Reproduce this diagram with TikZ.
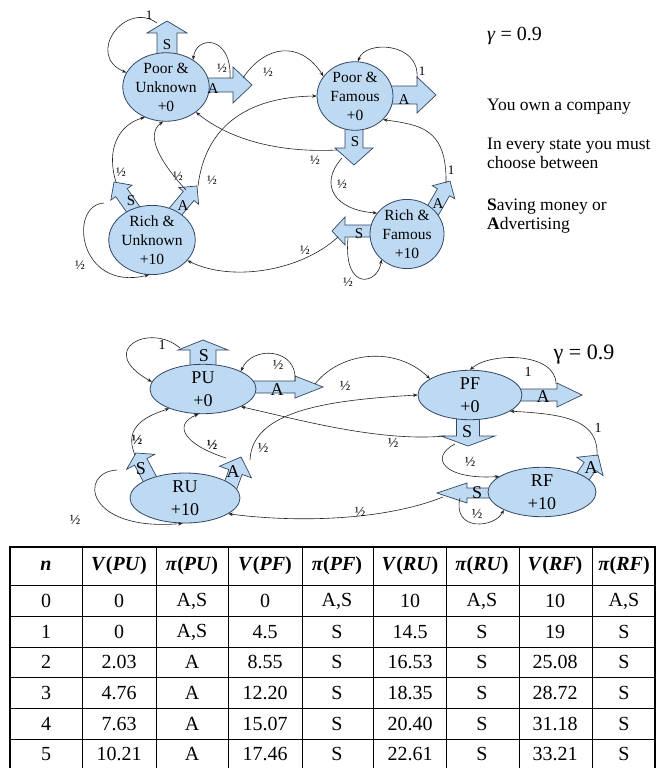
\documentclass[tikz,border=0pt]{standalone}
\usepackage{fontspec}
\setmainfont{Liberation Serif}
\usetikzlibrary{shapes.geometric,arrows.meta}
\definecolor{bfill}{RGB}{190,218,242}
\definecolor{bline}{RGB}{50,70,100}
\definecolor{eline}{RGB}{35,35,35}
\newcommand\blockarr[6]{%
 \begin{scope}[shift={#1},rotate=#2]
 \draw[barr] (0,0) -- (-#6,-#5) -- (-#6,-#4) -- (-#3,-#4) -- (-#3,#4) -- (-#6,#4) -- (-#6,#5) -- cycle;
 \end{scope}}
\newcommand\tcell[4]{\node[cellst] (#1) at (#2,#3) {#4};}
\newcommand\hcell[4]{\node[hcellst] (#1) at (#2,566) {\textit{#3}(\textit{#4})};}
\tikzset{
 stnode/.style={ellipse, draw=bline, fill=bfill, line width=0.8pt, inner sep=0pt, align=center},
 topst/.style={stnode, font=\fontsize{15.5}{19}\selectfont},
 botst/.style={stnode, font=\fontsize{18}{23}\selectfont},
 barr/.style={draw=bline, fill=bfill, line width=0.7pt, line join=miter},
 conn/.style={draw=eline, line width=0.6pt, -{Stealth[length=4.5pt,width=3.5pt]}},
 lab/.style={inner sep=0pt, font=\fontsize{13}{13}\selectfont},
 blab/.style={inner sep=0pt, font=\fontsize{14}{14}\selectfont},
 bblab/.style={inner sep=0pt, font=\fontsize{14}{14}\selectfont\bfseries},
 tal/.style={inner sep=0pt, font=\fontsize{15}{15}\selectfont},
 bal/.style={inner sep=0pt, font=\fontsize{18}{18}\selectfont},
 rtxt/.style={inner sep=0pt, anchor=base west, font=\fontsize{17.5}{17.5}\selectfont},
 cellst/.style={inner sep=0pt, font=\fontsize{20}{20}\selectfont},
 hcellst/.style={inner sep=0pt, font=\fontsize{20}{20}\selectfont\bfseries},
 thinl/.style={line width=0.8pt, draw=black},
 thickl/.style={line width=2pt, draw=black},
}
\begin{document}
\begin{tikzpicture}[x=1pt,y=-1pt]
\fill[white] (0,0) rectangle (656,768);
\useasboundingbox (0,0) rectangle (656,768);

% ===== TOP DIAGRAM =====
\blockarr{(167,21)}{90}{42}{10}{20}{12}
\blockarr{(252,85)}{0}{60}{7}{18}{19}
\blockarr{(436,95)}{0}{50}{9}{18}{19}
\blockarr{(354,165)}{-90}{47}{9}{19}{17}
\blockarr{(114,182)}{125}{42}{7}{13}{13}
\blockarr{(197,186)}{50}{42}{7}{13}{13}
\blockarr{(450,181)}{60}{42}{7}{13}{13}
\blockarr{(332,231)}{180}{50}{6}{14}{13}

\node[topst, minimum width=74, minimum height=68] (pu) at (166,87) {Poor \&\\Unknown\\+0};
\node[topst, minimum width=76, minimum height=66] (pf) at (355,96) {Poor \&\\Famous\\+0};
\node[topst, minimum width=74, minimum height=68] (ru) at (152,240) {Rich \&\\Unknown\\+10};
\node[topst, minimum width=74, minimum height=66] (rf) at (407,234) {Rich \&\\Famous\\+10};

\node[tal] (tpuS) at (167,45) {S};
\node[tal] (tpuA) at (213,89) {A};
\node[tal] (tpfA) at (404,100) {A};
\node[tal] (tpfS) at (355,142) {S};
\node[tal] (truS) at (131,201) {S};
\node[tal] (truA) at (183,206) {A};
\node[tal] (trfA) at (438,204) {A};
\node[tal] (trfS) at (359,234) {S};

\coordinate (e1) at (157,23);
\coordinate (e2) at (230,78);
\coordinate (e3) at (243,78);
\coordinate (e4) at (417,78);
\coordinate (e5) at (337,150);
\coordinate (e6) at (342,158);
\coordinate (e7) at (446,183);
\coordinate (e8) at (348,238);
\coordinate (e9) at (338,237);
\coordinate (e10) at (116,182);
\coordinate (e11) at (186,190);
\coordinate (e12) at (198,186);
\coordinate (e13) at (104,203);

\draw[conn] (e1) .. controls (125,0) and (85,55) .. (pu.160);
\draw[conn] (e2) .. controls (232,35) and (196,35) .. (pu.45);
\draw[conn] (e3) .. controls (265,45) and (300,40) .. (pf.148);
\draw[conn] (e4) .. controls (420,42) and (365,40) .. (pf.85);
\draw[conn] (e5) .. controls (280,153) and (230,140) .. (pu.-40);
\draw[conn] (e6) .. controls (318,185) and (335,210) .. (rf.145);
\draw[conn] (e7) .. controls (447,128) and (420,125) .. (pf.-40);
\draw[conn] (e8) .. controls (343,292) and (378,285) .. (rf.-135);
\draw[conn] (e9) .. controls (300,272) and (230,282) .. (ru.-30);
\draw[conn] (e10) .. controls (106,150) and (118,125) .. (pu.-125);
\draw[conn] (e11) .. controls (160,162) and (145,135) .. (pu.-95);
\draw[conn] (e12) .. controls (205,128) and (245,97) .. (pf.180);
\draw[conn] (e13) .. controls (68,205) and (78,292) .. (ru.-95);

\node[lab] (l1) at (149,15) {1};
\node[lab] (l2) at (222,68) {½};
\node[lab] (l3) at (268,72) {½};
\node[lab] (l4) at (422,71) {1};
\node[lab] (l5) at (315,160) {½};
\node[lab] (l6) at (342,184) {½};
\node[lab] (l7) at (451,170) {1};
\node[lab] (l8) at (348,282) {½};
\node[lab] (l9) at (305,250) {½};
\node[lab] (l10) at (121,172) {½};
\node[lab] (l11) at (178,176) {½};
\node[lab] (l12) at (212,180) {½};
\node[lab] (l13) at (80,265) {½};

% right-hand text
\node[inner sep=0pt, anchor=base west, font=\fontsize{20}{20}\selectfont] (gam1) at (487,41) {\textit{γ} = 0.9};
\node[rtxt] (t1) at (487,110) {You own a company};
\node[rtxt] (t2) at (487,149) {In every state you must};
\node[rtxt] (t3) at (487,168) {choose between};
\node[rtxt] (t4) at (487,210) {\textbf{S}aving money or};
\node[rtxt] (t5) at (487,229) {\textbf{A}dvertising};

% ===== BOTTOM DIAGRAM =====
\blockarr{(203,340)}{90}{45}{13}{25}{10}
\blockarr{(323,387)}{0}{83}{6}{11}{28}
\blockarr{(582,395)}{0}{77}{6}{12}{25}
\blockarr{(468,446)}{-90}{40}{11.5}{27}{10}
\blockarr{(136,453)}{118}{35}{7}{16}{10}
\blockarr{(241,457)}{70}{35}{7}{17}{16}
\blockarr{(598,455)}{55}{35}{7}{16}{14}
\blockarr{(437,493)}{180}{60}{5}{10}{30}

\node[botst, minimum width=106, minimum height=48] (PU) at (203,389) {PU\\+0};
\node[botst, minimum width=104, minimum height=46] (PF) at (470,395) {PF\\+0};
\node[botst, minimum width=110, minimum height=50] (RU) at (185,498) {RU\\+10};
\node[botst, minimum width=108, minimum height=46] (RF) at (542,492) {RF\\+10};

\node[bal] (bpuS) at (204,356) {S};
\node[bal] (bpuA) at (277,390) {A};
\node[bal] (bpfA) at (543,397) {A};
\node[bal] (bpfS) at (467,432) {S};
\node[bal] (bruS) at (141,469) {S};
\node[bal] (bruA) at (233,472) {A};
\node[bal] (brfA) at (591,468) {A};
\node[bal] (brfS) at (477,493) {S};

\node[inner sep=0pt, font=\fontsize{22}{22}\selectfont] (gam2) at (584,355) {γ = 0.9};

\coordinate (f1) at (180,348);
\coordinate (f2) at (295,381);
\coordinate (f3) at (315,384);
\coordinate (f4) at (556,384);
\coordinate (f5) at (445,436);
\coordinate (f6) at (455,444);
\coordinate (f7) at (597,456);
\coordinate (f8) at (460,498);
\coordinate (f9) at (443,497);
\coordinate (f10) at (135,455);
\coordinate (f11) at (226,458);
\coordinate (f12) at (250,460);
\coordinate (f13) at (117,470);

\draw[conn] (f1) .. controls (150,322) and (95,350) .. (PU.172);
\draw[conn] (f2) .. controls (298,348) and (252,345) .. (PU.25);
\draw[conn] (f3) .. controls (340,352) and (395,345) .. (PF.158);
\draw[conn] (f4) .. controls (556,352) and (490,352) .. (PF.90);
\draw[conn] (f5) .. controls (380,442) and (300,420) .. (PU.-25);
\draw[conn] (f6) .. controls (428,458) and (445,480) .. (RF.160);
\draw[conn] (f7) .. controls (599,420) and (565,414) .. (PF.-22);
\draw[conn] (f8) .. controls (452,532) and (495,528) .. (RF.-155);
\draw[conn] (f9) .. controls (380,522) and (290,522) .. (RU.-20);
\draw[conn] (f10) .. controls (122,425) and (150,415) .. (PU.-150);
\draw[conn] (f11) .. controls (185,445) and (172,425) .. (PU.-100);
\draw[conn] (f12) .. controls (252,410) and (330,400) .. (PF.180);
\draw[conn] (f13) .. controls (78,472) and (85,532) .. (RU.-95);

\node[blab] (m1) at (162,345) {1};
\node[blab] (m2) at (278,365) {½};
\node[blab] (m3) at (345,386) {½};
\node[blab] (m4) at (528,372) {1};
\node[blab] (m5) at (393,443) {½};
\node[blab] (m6) at (470,462) {½};
\node[blab] (m7) at (598,428) {1};
\node[blab] (m8) at (477,514) {½};
\node[blab] (m9) at (360,512) {½};
\node[bblab] (m10) at (137,440) {½};
\node[bblab] (m11) at (212,445) {½};
\node[blab] (m12) at (263,448) {½};
\node[blab] (m13) at (75,520) {½};

% ===== TABLE =====
\draw[thinl] (10,585) -- (655,585);
\draw[thinl] (10,616) -- (655,616);
\draw[thinl] (10,647) -- (655,647);
\draw[thinl] (10,677) -- (655,677);
\draw[thinl] (10,708) -- (655,708);
\draw[thinl] (10,739) -- (655,739);
\draw[thinl] (82,547) -- (82,768);
\draw[thinl] (156,547) -- (156,768);
\draw[thinl] (228,547) -- (228,768);
\draw[thinl] (302,547) -- (302,768);
\draw[thinl] (373,547) -- (373,768);
\draw[thinl] (446,547) -- (446,768);
\draw[thinl] (519,547) -- (519,768);
\draw[thinl] (592,547) -- (592,768);
\draw[thickl] (10,768) -- (10,547) -- (655,547) -- (655,768);

\node[hcellst] (h1) at (46,566) {\textit{n}};
\hcell{h2}{119}{V}{PU}
\hcell{h3}{192}{π}{PU}
\hcell{h4}{265}{V}{PF}
\hcell{h5}{337}{π}{PF}
\hcell{h6}{410}{V}{RU}
\hcell{h7}{482}{π}{RU}
\hcell{h8}{555}{V}{RF}
\hcell{h9}{624}{π}{RF}

\tcell{a1}{46}{601}{0}
\tcell{a2}{119}{601}{0}
\tcell{a3}{192}{601}{A,S}
\tcell{a4}{265}{601}{0}
\tcell{a5}{337}{601}{A,S}
\tcell{a6}{410}{601}{10}
\tcell{a7}{482}{601}{A,S}
\tcell{a8}{555}{601}{10}
\tcell{a9}{624}{601}{A,S}

\tcell{b1}{46}{632}{1}
\tcell{b2}{119}{632}{0}
\tcell{b3}{192}{632}{A,S}
\tcell{b4}{265}{632}{4.5}
\tcell{b5}{337}{632}{S}
\tcell{b6}{410}{632}{14.5}
\tcell{b7}{482}{632}{S}
\tcell{b8}{555}{632}{19}
\tcell{b9}{624}{632}{S}

\tcell{c1}{46}{662}{2}
\tcell{c2}{119}{662}{2.03}
\tcell{c3}{192}{662}{A}
\tcell{c4}{265}{662}{8.55}
\tcell{c5}{337}{662}{S}
\tcell{c6}{410}{662}{16.53}
\tcell{c7}{482}{662}{S}
\tcell{c8}{555}{662}{25.08}
\tcell{c9}{624}{662}{S}

\tcell{d1}{46}{693}{3}
\tcell{d2}{119}{693}{4.76}
\tcell{d3}{192}{693}{A}
\tcell{d4}{265}{693}{12.20}
\tcell{d5}{337}{693}{S}
\tcell{d6}{410}{693}{18.35}
\tcell{d7}{482}{693}{S}
\tcell{d8}{555}{693}{28.72}
\tcell{d9}{624}{693}{S}

\tcell{g1}{46}{724}{4}
\tcell{g2}{119}{724}{7.63}
\tcell{g3}{192}{724}{A}
\tcell{g4}{265}{724}{15.07}
\tcell{g5}{337}{724}{S}
\tcell{g6}{410}{724}{20.40}
\tcell{g7}{482}{724}{S}
\tcell{g8}{555}{724}{31.18}
\tcell{g9}{624}{724}{S}

\tcell{k1}{46}{754}{5}
\tcell{k2}{119}{754}{10.21}
\tcell{k3}{192}{754}{A}
\tcell{k4}{265}{754}{17.46}
\tcell{k5}{337}{754}{S}
\tcell{k6}{410}{754}{22.61}
\tcell{k7}{482}{754}{S}
\tcell{k8}{555}{754}{33.21}
\tcell{k9}{624}{754}{S}
\end{tikzpicture}
\end{document}
